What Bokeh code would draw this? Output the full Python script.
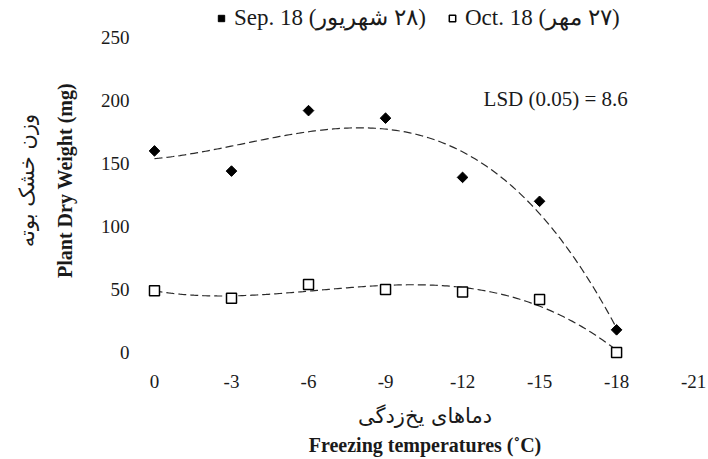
import numpy as np
from bokeh.plotting import figure
from bokeh.models import Legend, LegendItem, Label, Range1d, FixedTicker, Title
from bokeh.embed import file_html
from bokeh.resources import INLINE

# Data
temps = [0, -3, -6, -9, -12, -15, -18]
sep18 = [160, 144, 192, 186, 139, 120, 18]
oct18 = [49, 43, 54, 50, 48, 42, 0]
x_ticks = [0, -3, -6, -9, -12, -15, -18, -21]
y_ticks = [0, 50, 100, 150, 200, 250]
sep_label = "Sep. 18 (\u202B۲۸ شهریور\u202C)"
oct_label = "Oct. 18 (\u202B۲۷ مهر\u202C)"
x_title_fa = "دماهای یخ‌زدگی"
x_title_en = "Freezing temperatures (˚C)"
y_title_fa = "وزن خشک بوته"
y_title_en = "Plant Dry Weight (mg)"
lsd_text = "LSD (0.05) = 8.6"

SERIF = "Liberation Serif"
SERIF_B = "Times New Roman"
FA = "DejaVu Sans"
INK = "#1a1a1a"

p = figure(width=708, height=459, output_backend="svg", toolbar_location=None,
           x_range=Range1d(0.506, -21.58), y_range=Range1d(-6.35, 279.4),
           min_border_left=141, min_border_right=0, min_border_top=0, min_border_bottom=99)
p.outline_line_color = None
p.grid.visible = False
for ax in (p.xaxis[0], p.yaxis[0]):
    ax.axis_line_color = None
    ax.major_tick_line_color = None
    ax.minor_tick_line_color = None
    ax.major_label_text_font = SERIF
    ax.major_label_text_font_size = "19px"
    ax.major_label_text_color = INK
    ax.axis_label_text_color = INK
p.xaxis[0].ticker = FixedTicker(ticks=x_ticks)
p.xaxis[0].major_label_overrides = {t: str(t) for t in x_ticks}
p.yaxis[0].ticker = FixedTicker(ticks=y_ticks)
p.xaxis[0].major_label_standoff = 8
p.yaxis[0].major_label_standoff = 6

# axis titles
p.yaxis[0].axis_label = y_title_en
p.yaxis[0].axis_label_text_font = SERIF_B
p.yaxis[0].axis_label_text_font_size = "20px"
p.yaxis[0].axis_label_text_font_style = "bold"
p.yaxis[0].axis_label_standoff = 22
p.xaxis[0].axis_label = x_title_fa
p.xaxis[0].axis_label_text_font = FA
p.xaxis[0].axis_label_text_font_size = "21px"
p.xaxis[0].axis_label_text_font_style = "normal"
p.xaxis[0].axis_label_standoff = 13

p.add_layout(Title(text=x_title_en, align="center", text_font=SERIF_B,
                   text_font_size="20px", text_font_style="bold", standoff=3,
                   text_color=INK), "below")
p.add_layout(Title(text=y_title_fa, align="center", text_font=FA,
                   text_font_size="21px", text_font_style="normal", standoff=23,
                   text_color=INK), "left")

# polynomial (order 3) trend lines fitted to the data
xs = np.linspace(0, -18, 200)
sep_fit = np.polyval(np.polyfit(temps, sep18, 3), xs)
oct_fit = np.polyval(np.polyfit(temps, oct18, 3), xs)
p.line(xs, sep_fit, line_color="#2a2a2a", line_width=1.2, line_dash="8 4")
p.line(xs, oct_fit, line_color="#2a2a2a", line_width=1.2, line_dash="8 4")

r1 = p.scatter(temps, sep18, marker="square", angle=np.pi / 4, size=7.5,
               fill_color="black", line_color="black")
r2 = p.scatter(temps, oct18, marker="square", size=10, fill_color="white",
               line_color="black", line_width=1.5)

def mk_legend(label, rend, loc):
    return Legend(items=[LegendItem(label=label, renderers=[rend])], location=loc,
                  orientation="horizontal", border_line_color=None, background_fill_alpha=0,
                  padding=0, margin=0, label_standoff=5, glyph_width=16, glyph_height=16,
                  label_text_font=SERIF, label_text_font_size="23px",
                  label_text_color=INK)

p.add_layout(mk_legend(sep_label, r1, (72, 329)))
p.add_layout(mk_legend(oct_label, r2, (303, 329)))

p.add_layout(Label(x=-12.82, y=201.6, text=lsd_text, text_font=SERIF,
                   text_font_size="21px", text_align="left", text_baseline="middle",
                   text_color=INK))

open("out.html", "w").write(file_html(p, INLINE))
